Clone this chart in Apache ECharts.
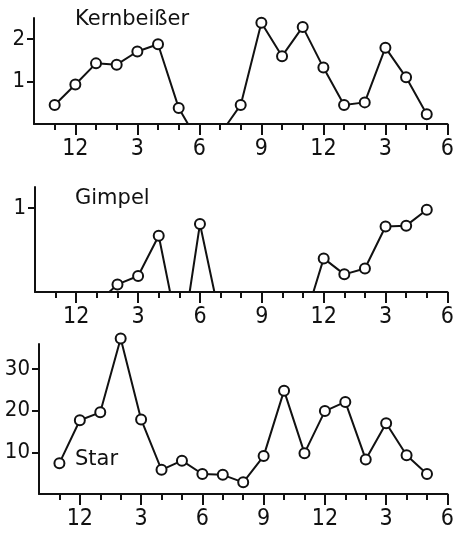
<!DOCTYPE html>
<html>
<head>
<meta charset="utf-8">
<script src="https://cdn.jsdelivr.net/npm/echarts@6/dist/echarts.min.js"></script>
<style>
  html, body { margin: 0; padding: 0; background: #fff; }
  #chart { width: 457px; height: 533px; }
</style>
</head>
<body>
<div id="chart"></div>
<script>
// Stunden (fortlaufend, 24 = Mitternacht); Punkte mit Wert 0 = Schnitt mit der Achse
var kernbeisser = [
  [11, 0.45], [12, 0.93], [13, 1.43], [14, 1.40], [15, 1.71], [16, 1.88], [17, 0.38],
  [17.45, 0], [18, '-'], [19.35, 0],
  [20, 0.45], [21, 2.39], [22, 1.60], [23, 2.29], [24, 1.33], [25, 0.45], [26, 0.51],
  [27, 1.80], [28, 1.10], [29, 0.23]
];
var gimpel = [
  [13.6, 0], [14, 0.09], [15, 0.19], [16, 0.67], [16.55, 0], [17, '-'],
  [17.5, 0], [18, 0.81], [18.7, 0], [20, '-'],
  [23.5, 0], [24, 0.40], [25, 0.21], [26, 0.28], [27, 0.78], [28, 0.79], [29, 0.98]
];
var star = [
  [11, 7.4], [12, 17.7], [13, 19.6], [14, 37.3], [15, 17.9], [16, 5.8], [17, 8.0],
  [18, 4.8], [19, 4.6], [20, 2.8], [21, 9.1], [22, 24.8], [23, 9.8], [24, 19.9],
  [25, 22.1], [26, 8.3], [27, 17.0], [28, 9.3], [29, 4.8]
];
var majorHours = [12, 15, 18, 21, 24, 27, 30];
var minorHours = [11, 12, 13, 14, 15, 16, 17, 18, 19, 20, 21, 22, 23, 24, 25, 26, 27, 28, 29, 30];
var titles = ['Kernbeißer', 'Gimpel', 'Star'];
var kernTicks = [1, 2];
var gimpelTicks = [1];
var starTicks = [10, 20, 30];

var ink = '#111';
var tickFont = '"Liberation Sans Narrow", "DejaVu Sans Condensed", sans-serif';

var myChart = echarts.init(document.getElementById('chart'));

var grids = [
  { left: 34, right: 7, top: 18, height: 106 },
  { left: 35, right: 5, top: 187, height: 105 },
  { left: 39, right: 1, top: 344, height: 150 }
];
var yMax = [2.5, 1.25, 36];
var yTicks = [kernTicks, gimpelTicks, starTicks];
var seriesData = [kernbeisser, gimpel, star];
var titleTops = [9, 188, 449];

var xAxes = [];
var yAxes = [];
var series = [];
grids.forEach(function (g, i) {
  // Hauptachse mit langen Strichen und Beschriftung
  xAxes.push({
    type: 'value', gridIndex: i, min: 10, max: 30, position: 'bottom',
    splitLine: { show: false },
    axisLine: { lineStyle: { color: ink, width: 2 } },
    axisTick: { customValues: majorHours, length: 11, lineStyle: { color: ink, width: 2 } },
    axisLabel: {
      customValues: majorHours, margin: 14, color: ink, fontSize: 23, fontFamily: tickFont,
      formatter: function (v) { return String((v - 1) % 12 + 1); }
    }
  });
  // kurze Striche jede Stunde
  xAxes.push({
    type: 'value', gridIndex: i, min: 10, max: 30, position: 'bottom',
    splitLine: { show: false },
    axisLine: { show: false },
    axisTick: { customValues: minorHours, length: 6, lineStyle: { color: ink, width: 2 } },
    axisLabel: { show: false }
  });
  yAxes.push({
    type: 'value', gridIndex: i, min: 0, max: yMax[i],
    splitLine: { show: false },
    axisLine: { show: true, lineStyle: { color: ink, width: 2 } },
    axisTick: { show: true, customValues: yTicks[i], length: 7, lineStyle: { color: ink, width: 2 } },
    axisLabel: { customValues: yTicks[i], margin: 9, color: ink, fontSize: 22, fontFamily: tickFont }
  });
  series.push({
    type: 'line',
    xAxisIndex: i * 2,
    yAxisIndex: i,
    data: seriesData[i],
    clip: false,
    connectNulls: false,
    symbol: function (v) { return v[1] === 0 ? 'none' : 'circle'; },
    symbolSize: 10,
    itemStyle: { color: '#fff', borderColor: ink, borderWidth: 2 },
    lineStyle: { color: ink, width: 2 },
    emphasis: { disabled: true },
    z: 3
  });
});

var option = {
  backgroundColor: '#fff',
  animation: false,
  title: titles.map(function (t, i) {
    return {
      text: t, left: 75, top: titleTops[i], padding: 0,
      textStyle: { color: ink, fontSize: 21, fontWeight: 500, fontFamily: '"DejaVu Sans", sans-serif' }
    };
  }),
  grid: grids,
  xAxis: xAxes,
  yAxis: yAxes,
  series: series
};

myChart.setOption(option);
window.addEventListener('resize', function () {
  myChart.resize();
});
</script>
</body>
</html>
